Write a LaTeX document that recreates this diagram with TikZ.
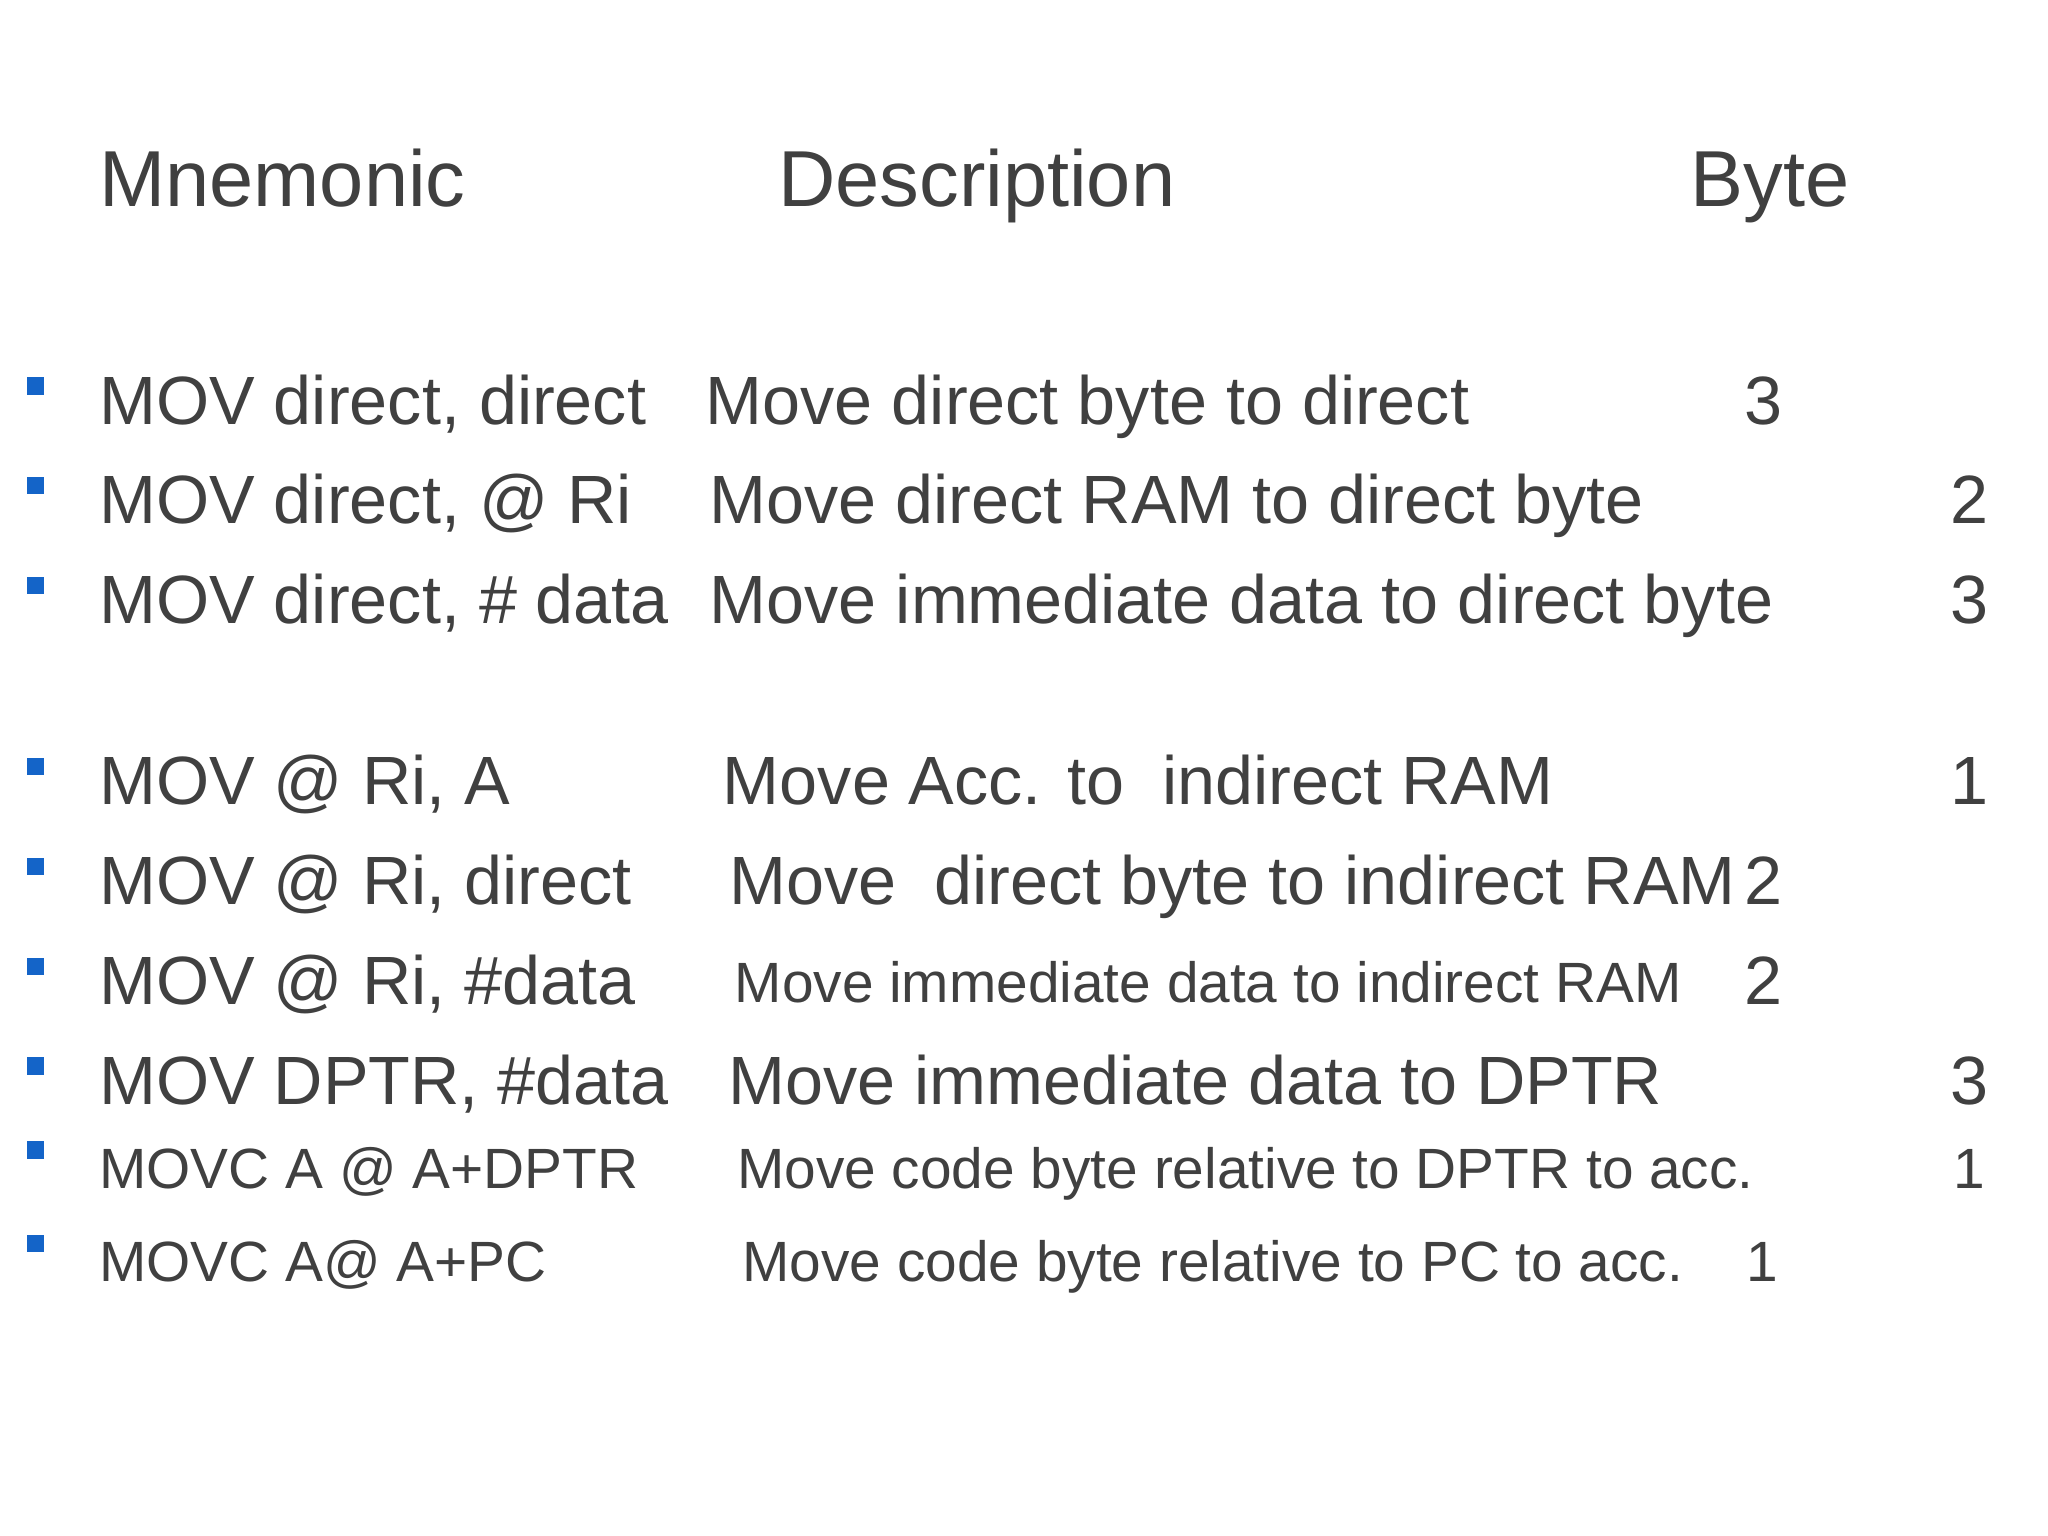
\documentclass[tikz,border=0pt]{standalone}
\usepackage{fontspec}
\setmainfont{Liberation Sans}
\definecolor{txtgray}{RGB}{64,64,64}
\definecolor{bulletblue}{RGB}{20,100,200}
\begin{document}
\begin{tikzpicture}[
	x=0.01cm, y=-0.01cm,
	every node/.style = {anchor=base west, inner sep=0pt, text=txtgray},
	head/.style = {font=\fontsize{17.2}{20}\selectfont},
	big/.style = {font=\fontsize{14.8}{18}\selectfont},
	mid/.style = {font=\fontsize{12.3}{15}\selectfont},
	small/.style = {font=\fontsize{12.3}{14}\selectfont},
	bullet/.style = {fill=bulletblue, minimum size=0.13cm, anchor=center, draw=none}
]
\useasboundingbox (0,0) rectangle (1560,1170);

% Header
\node [head] (hmn) at (75,157) {Mnemonic};
\node [head] (hdesc) at (592,157) {Description};
\node [head] (hbyte) at (1287,157) {Byte};

% Rows
\foreach \y/\st/\mn/\dx/\desc/\bx/\byte [count=\i] in {
	323/big/{MOV direct, direct}/537/{Move direct byte to direct}/1328/3,
	399/big/{MOV direct, @ Ri}/540/{Move direct RAM to direct byte}/1485/2,
	475/big/{MOV direct, \# data}/540/{Move immediate data to direct byte}/1485/3,
	613/big/{MOV @ Ri, A}/550/{Move Acc. to\ \ indirect RAM}/1485/1,
	689/big/{MOV @ Ri, direct}/555/{Move\ \ direct byte to indirect RAM}/1328/2,
	765/big/{MOV @ Ri, \#data}/0/{}/1328/2,
	841/big/{MOV DPTR, \#data}/554/{Move immediate data to DPTR}/1485/3,
	905/small/{MOVC A @ A+DPTR}/561/{Move code byte relative to DPTR to acc.}/1487/1,
	976/small/{MOVC A@ A+PC}/565/{Move code byte relative to PC to acc.}/1330/1}
{
	\node [bullet] (b\i) at (27,\y-29) {};
	\node [\st] (mn\i) at (75,\y) {\mn};
	\ifnum\dx>0
		\node [\st] (desc\i) at (\dx,\y) {\desc};
	\fi
	\node [\st] (byte\i) at (\bx,\y) {\byte};
}
\node [mid] (desc6) at (559,764) {Move immediate data to indirect RAM};

\end{tikzpicture}
\end{document}
